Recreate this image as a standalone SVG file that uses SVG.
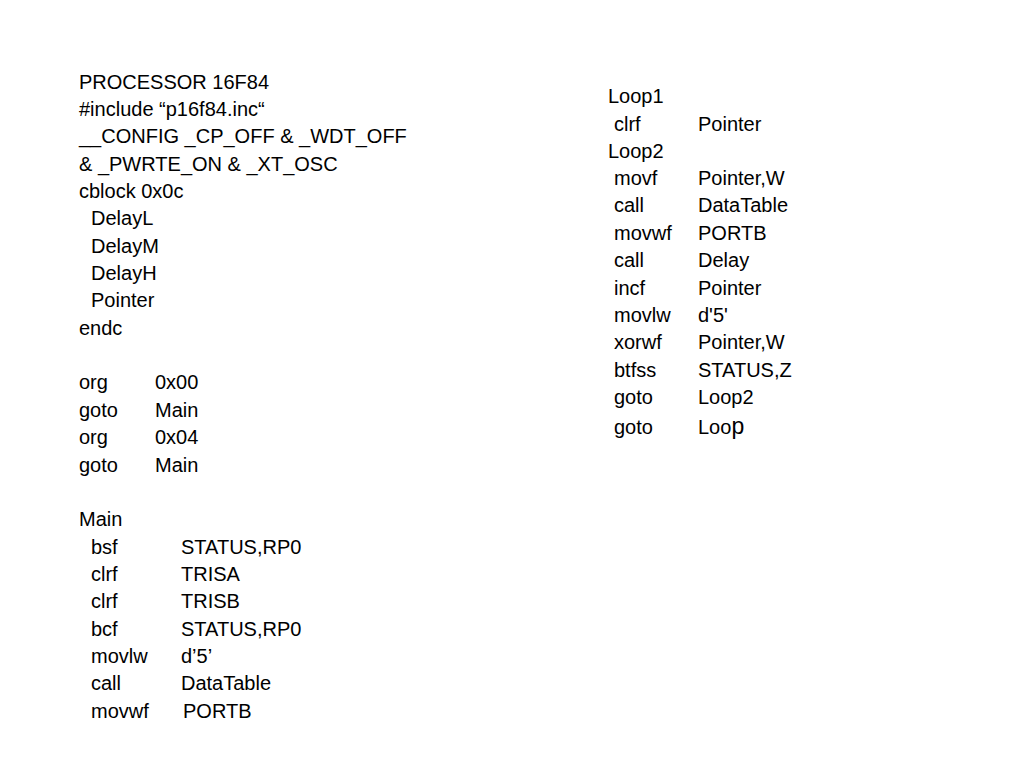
<svg xmlns="http://www.w3.org/2000/svg" width="1024" height="768" viewBox="0 0 1024 768">
<style>text{font-family:"Liberation Sans",Arial,sans-serif;font-size:20px;fill:#000}</style>
<rect width="1024" height="768" fill="#fff"/>
<g id="left">
<text x="79" y="89">PROCESSOR 16F84</text>
<text x="79" y="116">#include “p16f84.inc“</text>
<text x="79" y="143">__CONFIG _CP_OFF &amp; _WDT_OFF</text>
<text x="79" y="171">&amp; _PWRTE_ON &amp; _XT_OSC</text>
<text x="79" y="198">cblock  0x0c</text>
<text x="91" y="225">DelayL</text>
<text x="91" y="253">DelayM</text>
<text x="91" y="280">DelayH</text>
<text x="91" y="307">Pointer</text>
<text x="79" y="335">endc</text>
<text x="79" y="389">org</text><text x="155" y="389">0x00</text>
<text x="79" y="417">goto</text><text x="155" y="417">Main</text>
<text x="79" y="444">org</text><text x="155" y="444">0x04</text>
<text x="79" y="472">goto</text><text x="155" y="472">Main</text>
<text x="79" y="526">Main</text>
<text x="91" y="554">bsf</text><text x="181" y="554">STATUS,RP0</text>
<text x="91" y="581">clrf</text><text x="181" y="581">TRISA</text>
<text x="91" y="608">clrf</text><text x="181" y="608">TRISB</text>
<text x="91" y="636">bcf</text><text x="181" y="636">STATUS,RP0</text>
<text x="91" y="663">movlw</text><text x="181" y="663">d’5’</text>
<text x="91" y="690">call</text><text x="181" y="690">DataTable</text>
<text x="91" y="718">movwf</text><text x="183" y="718">PORTB</text>
</g>
<g id="right">
<text x="608" y="103">Loop1</text>
<text x="614" y="131">clrf</text><text x="698" y="131">Pointer</text>
<text x="608" y="158">Loop2</text>
<text x="614" y="185">movf</text><text x="698" y="185">Pointer,W</text>
<text x="614" y="212">call</text><text x="698" y="212">DataTable</text>
<text x="614" y="240">movwf</text><text x="698" y="240">PORTB</text>
<text x="614" y="267">call</text><text x="698" y="267">Delay</text>
<text x="614" y="295">incf</text><text x="698" y="295">Pointer</text>
<text x="614" y="322">movlw</text><text x="698" y="322">d'5'</text>
<text x="614" y="349">xorwf</text><text x="698" y="349">Pointer,W</text>
<text x="614" y="377">btfss</text><text x="698" y="377">STATUS,Z</text>
<text x="614" y="404">goto</text><text x="698" y="404">Loop2</text>
<text x="614" y="434">goto</text><text x="698" y="434">Loo<tspan font-size="23">p</tspan></text>
</g>
</svg>
